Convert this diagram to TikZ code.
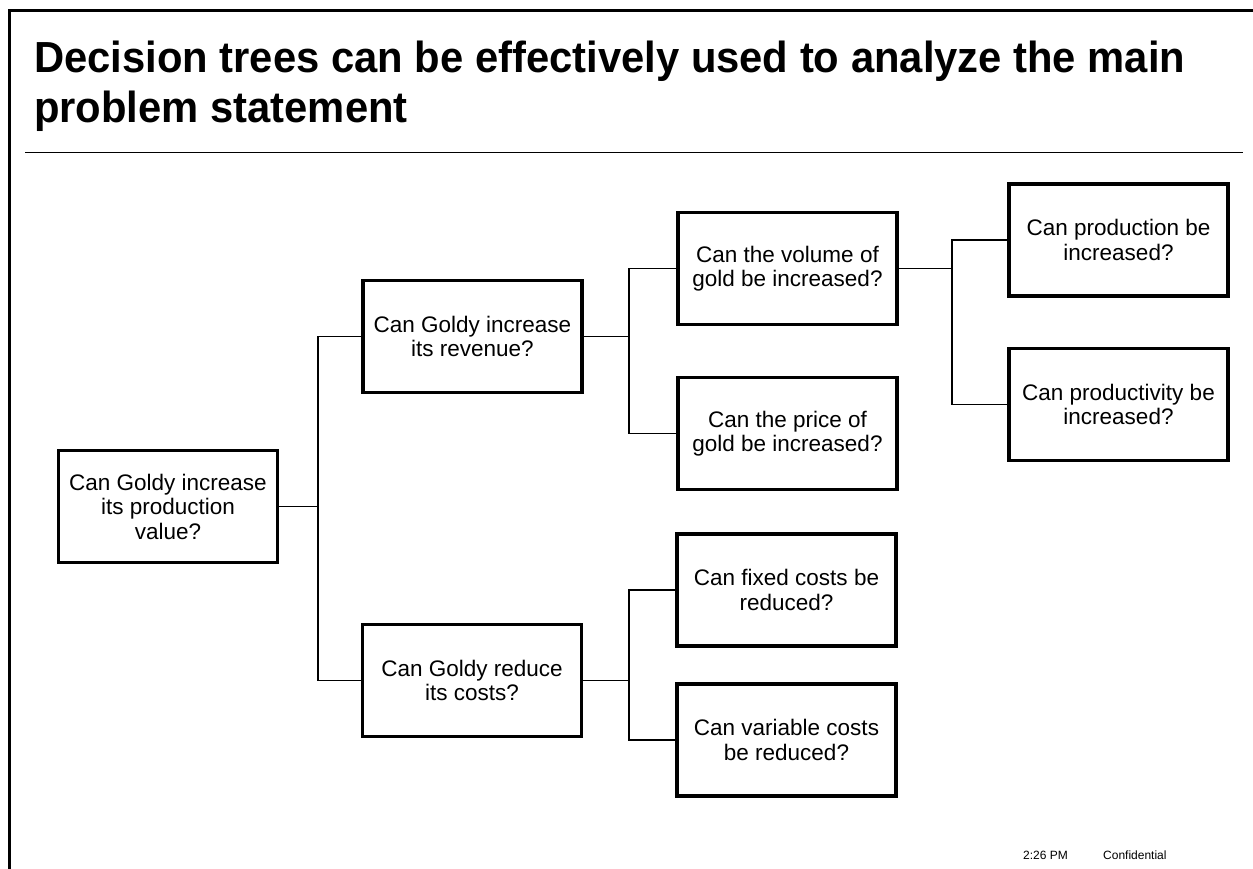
\documentclass[tikz,border=0pt]{standalone}
\usepackage{fontspec}
\setmainfont{Liberation Sans}
\newfontfamily\titlefont[FakeStretch=0.96]{Liberation Sans}
\tikzset{
  qbox/.style={draw=black, line width=3.2pt, minimum width=219pt, minimum height=112pt,
    inner sep=0pt, align=center, font=\fontsize{22.5}{24.5}\selectfont},
  link/.style={draw=black, line width=1.6pt},
  foot/.style={anchor=west, inner sep=0pt, font=\fontsize{12}{14}\selectfont}
}
\begin{document}
\begin{tikzpicture}[x=1pt,y=-1pt]
\useasboundingbox (0,0) rectangle (1253,869);
% frame and rule
\draw[line width=3pt] (9.5,869) -- (9.5,10.5) -- (1253,10.5);
\draw[line width=1.8pt] (25,152.5) -- (1243,152.5);
% title
\node[anchor=north west, inner sep=0pt, align=left,
  font=\titlefont\fontsize{43.5}{50}\selectfont\bfseries] (title) at (34,41)
  {Decision trees can be effectively used to analyze the main\\problem statement};
% boxes
\node[qbox] (root) at (168,506.5) {Can Goldy increase\\its production\\value?};
\node[qbox] (rev) at (472.5,336.5) {Can Goldy increase\\its revenue?};
\node[qbox] (cost) at (472,680.5) {Can Goldy reduce\\its costs?};
\node[qbox] (vol) at (787.5,268.5) {Can the volume of\\gold be increased?};
\node[qbox] (price) at (787.5,433.5) {Can the price of\\gold be increased?};
\node[qbox] (fixed) at (786.5,590) {Can fixed costs be\\reduced?};
\node[qbox] (var) at (786.5,740) {Can variable costs\\be reduced?};
\node[qbox] (prod) at (1118.5,240) {Can production be\\increased?};
\node[qbox] (prodv) at (1118.5,404.5) {Can productivity be\\increased?};
% junctions
\coordinate (j1) at (318,506.5);
\coordinate (j2) at (629,336.5);
\coordinate (j3) at (629,680.5);
\coordinate (j4) at (952,268.5);
% connectors
\draw[link] (root.east) -- (j1);
\draw[link] (j1) |- (rev.west);
\draw[link] (j1) |- (cost.west);
\draw[link] (rev.east) -- (j2);
\draw[link] (j2) |- (vol.west);
\draw[link] (j2) |- (price.west);
\draw[link] (cost.east) -- (j3);
\draw[link] (j3) |- (fixed.west);
\draw[link] (j3) |- (var.west);
\draw[link] (vol.east) -- (j4);
\draw[link] (j4) |- (prod.west);
\draw[link] (j4) |- (prodv.west);
% footer
\node[foot] (time) at (1023,855) {2:26 PM};
\node[foot] (conf) at (1103,855) {Confidential};
\end{tikzpicture}
\end{document}
